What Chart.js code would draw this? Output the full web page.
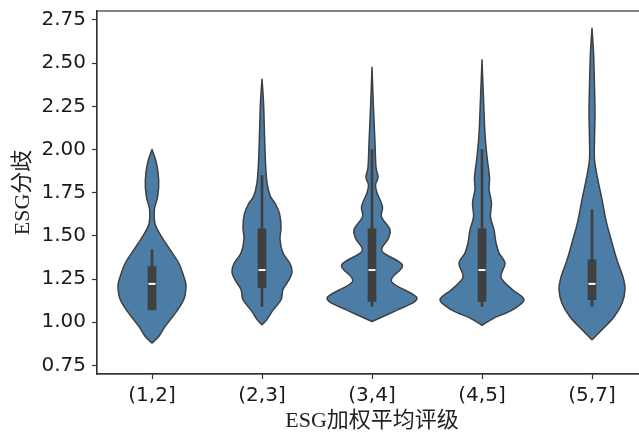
<!DOCTYPE html>
<html>
<head>
<meta charset="utf-8">
<script src="https://cdn.jsdelivr.net/npm/chart.js@4.4.1/dist/chart.umd.min.js"></script>
<style>
  html, body { margin: 0; padding: 0; background: #fff; overflow: hidden; }
  #wrap { width: 639px; height: 434px; overflow: hidden; }
</style>
</head>
<body>
<div id="wrap"><canvas id="chart" width="660" height="434"></canvas></div>
<script>
// categories on the x axis
const categories = ['(1,2]', '(2,3]', '(3,4]', '(4,5]', '(5,7]'];
const yTicks = [0.75, 1.00, 1.25, 1.50, 1.75, 2.00, 2.25, 2.50, 2.75];

// violin outline: values along y and half width of the density (in category units)
const profileValues = [
    [2.00, 1.92, 1.82, 1.73, 1.65, 1.57, 1.50, 1.42, 1.34, 1.26, 1.21, 1.13, 1.05, 0.975, 0.917, 0.879],
    [2.407, 2.27, 2.08, 1.92, 1.81, 1.73, 1.69, 1.63, 1.55, 1.48, 1.40, 1.34, 1.29, 1.245, 1.19, 1.13, 1.07, 1.015, 0.985],
    [2.476, 2.23, 2.04, 1.90, 1.84, 1.795, 1.75, 1.67, 1.61, 1.535, 1.48, 1.41, 1.33, 1.236, 1.14, 1.07, 1.03, 1.004],
    [2.519, 2.29, 2.09, 1.96, 1.84, 1.77, 1.69, 1.61, 1.535, 1.46, 1.40, 1.34, 1.26, 1.19, 1.13, 1.07, 1.024, 0.982],
    [2.702, 2.56, 2.36, 2.21, 2.06, 1.94, 1.82, 1.71, 1.59, 1.48, 1.36, 1.26, 1.19, 1.11, 1.03, 0.956, 0.898]
];
const profileWidths = [
    [0, 0.041, 0.061, 0.052, 0.021, 0.027, 0.082, 0.164, 0.245, 0.291, 0.309, 0.288, 0.209, 0.118, 0.061, 0],
    [0, 0.014, 0.023, 0.032, 0.045, 0.075, 0.118, 0.159, 0.173, 0.164, 0.191, 0.255, 0.273, 0.245, 0.191, 0.173, 0.100, 0.045, 0],
    [0, 0.014, 0.027, 0.036, 0.055, 0.032, 0.045, 0.095, 0.086, 0.164, 0.145, 0.091, 0.277, 0.177, 0.409, 0.227, 0.091, 0],
    [0, 0.014, 0.027, 0.045, 0.068, 0.064, 0.086, 0.077, 0.109, 0.127, 0.155, 0.209, 0.173, 0.273, 0.382, 0.273, 0.109, 0],
    [0, 0.014, 0.023, 0.027, 0.023, 0.023, 0.055, 0.091, 0.127, 0.173, 0.227, 0.282, 0.300, 0.273, 0.200, 0.091, 0]
];

// inner box statistics
const whiskerLow = [1.072, 1.091, 1.091, 1.091, 1.091];
const q1 = [1.072, 1.201, 1.120, 1.120, 1.130];
const median = [1.222, 1.302, 1.302, 1.302, 1.222];
const q3 = [1.322, 1.541, 1.541, 1.541, 1.361];
const whiskerHigh = [1.419, 1.85, 2.0, 2.0, 1.650];

const FILL = '#4c7da7';
const LINE = '#3f3f3f';
const TICK_FONT = { family: "'DejaVu Sans', sans-serif", size: 20 };
const TITLE_FONT = { family: "'Liberation Serif', 'Noto Sans CJK SC', serif", size: 22 };

// catmull-rom through the points, as bezier segments
function curveThrough(ctx, pts) {
    for (let i = 0; i < pts.length - 1; i++) {
        const p0 = pts[i - 1] || pts[i];
        const p1 = pts[i];
        const p2 = pts[i + 1];
        const p3 = pts[i + 2] || p2;
        ctx.bezierCurveTo(
            p1.x + (p2.x - p0.x) / 6, p1.y + (p2.y - p0.y) / 6,
            p2.x - (p3.x - p1.x) / 6, p2.y - (p3.y - p1.y) / 6,
            p2.x, p2.y
        );
    }
}

const violinPlugin = {
    id: 'violins',
    beforeDatasetsDraw(chart) {
        const { ctx, scales: { x, y } } = chart;
        ctx.save();
        profileValues.forEach((vals, i) => {
            const w = profileWidths[i];
            const right = vals.map((v, k) => ({ x: x.getPixelForValue(i + w[k]), y: y.getPixelForValue(v) }));
            const left = vals.map((v, k) => ({ x: x.getPixelForValue(i - w[k]), y: y.getPixelForValue(v) })).reverse();
            ctx.beginPath();
            ctx.moveTo(right[0].x, right[0].y);
            curveThrough(ctx, right);
            curveThrough(ctx, left);
            ctx.closePath();
            ctx.fillStyle = FILL;
            ctx.fill();
            ctx.lineWidth = 1.5;
            ctx.strokeStyle = LINE;
            ctx.lineJoin = 'round';
            ctx.stroke();
        });
        ctx.restore();
    },
    afterDraw(chart) {
        // frame round the plot area (top and right spines)
        const { ctx, chartArea: a } = chart;
        ctx.save();
        ctx.strokeStyle = '#333';
        ctx.lineWidth = 1.2;
        ctx.strokeRect(a.left, a.top, a.right - a.left, a.bottom - a.top);
        ctx.restore();
    }
};

new Chart(document.getElementById('chart'), {
    type: 'bar',
    data: {
        datasets: [
            {
                label: 'whisker',
                data: categories.map((c, i) => ({ x: i, y: [whiskerLow[i], whiskerHigh[i]] })),
                backgroundColor: LINE,
                barThickness: 2,
                grouped: false,
                order: 3
            },
            {
                label: 'box',
                data: categories.map((c, i) => ({ x: i, y: [q1[i], q3[i]] })),
                backgroundColor: LINE,
                barThickness: 8,
                grouped: false,
                order: 2
            },
            {
                type: 'scatter',
                label: 'median',
                data: categories.map((c, i) => ({ x: i, y: median[i] })),
                pointStyle: 'line',
                pointRadius: 3.5,
                borderColor: '#ffffff',
                borderWidth: 2,
                order: 1
            }
        ]
    },
    options: {
        responsive: false,
        animation: false,
        layout: { padding: { top: 11, right: 13, left: 0, bottom: 0 } },
        plugins: { legend: { display: false }, tooltip: { enabled: false } },
        scales: {
            x: {
                type: 'linear',
                offset: false,
                min: -0.5,
                max: 4.5,
                afterBuildTicks: s => { s.ticks = categories.map((c, i) => ({ value: i })); },
                afterFit: s => { s.height = 60; s.paddingLeft = 0; s.paddingRight = 0; },
                ticks: {
                    callback: v => categories[v],
                    font: TICK_FONT,
                    color: '#1a1a1a',
                    padding: 5,
                    maxRotation: 0,
                    autoSkip: false
                },
                grid: { offset: false, drawOnChartArea: false, drawTicks: true, tickLength: 5, tickColor: '#333', tickWidth: 1.2 },
                border: { display: true, color: '#333', width: 1.2 },
                title: { display: true, text: 'ESG加权平均评级', font: TITLE_FONT, color: '#222', padding: { top: 0, bottom: 0 } }
            },
            y: {
                type: 'linear',
                min: 0.70,
                max: 2.802,
                afterBuildTicks: s => { s.ticks = yTicks.map(v => ({ value: v })); },
                afterFit: s => { s.width = 97; s.paddingTop = 0; s.paddingBottom = 0; },
                ticks: {
                    callback: v => v.toFixed(2),
                    font: TICK_FONT,
                    color: '#1a1a1a',
                    padding: 6
                },
                grid: { drawOnChartArea: false, drawTicks: true, tickLength: 5, tickColor: '#333', tickWidth: 1.2 },
                border: { display: true, color: '#333', width: 1.2 },
                title: { display: true, text: 'ESG分歧', font: TITLE_FONT, color: '#222', padding: { top: 10, bottom: 0 } }
            }
        }
    },
    plugins: [violinPlugin]
});
</script>
</body>
</html>
